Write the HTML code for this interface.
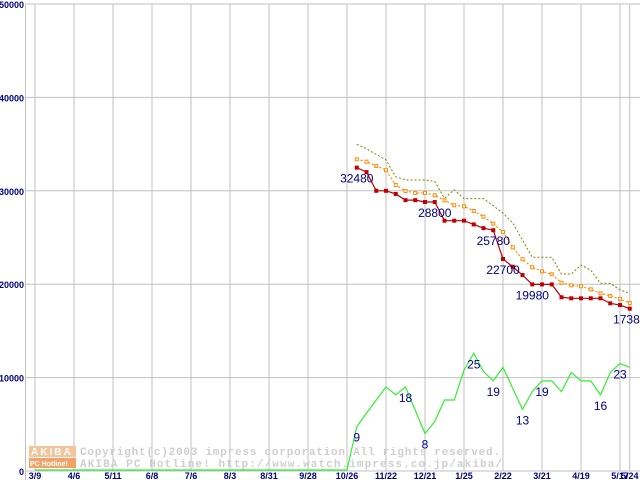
<!DOCTYPE html>
<html><head><meta charset="utf-8"><style>
body{margin:0;background:#fff}
svg{display:block}
</style></head><body>
<svg width="640" height="480" xmlns="http://www.w3.org/2000/svg">
<g id="grid"></g>
<g id="ticks"></g>
<g>
<rect x="29" y="446" width="47" height="11" fill="#f6c49a"/>
<rect x="29" y="458" width="47" height="10" fill="#f2a36a"/>
<text x="31" y="455" font-family="Liberation Sans,sans-serif" font-size="10" font-weight="bold" fill="#fff" letter-spacing="2">AKIBA</text>
<text x="30" y="466" font-family="Liberation Sans,sans-serif" font-size="7" font-weight="bold" fill="#fff">PC Hotline!</text>
<text x="80" y="455" font-family="Liberation Mono,monospace" font-size="11" font-weight="bold" fill="#cfcfcf" textLength="420">Copyright(c)2003 impress corporation All rights reserved.</text>
<text x="80" y="467" font-family="Liberation Mono,monospace" font-size="11" font-weight="bold" fill="#cfcfcf" textLength="422">AKIBA PC Hotline!  http://www.watch.impress.co.jp/akiba/</text>
</g>
<g id="series"></g>
</svg>
<script>
const xLabels=["3/9","4/6","5/11","6/8","7/6","8/3","8/31","9/28","10/26","11/22","12/21","1/25","2/22","3/21","4/19","5/17","5/24"];
const xLabelWeeks=[0,4,8,12,16,20,24,28,32,36,40,44,48,52,56,60,61];
const yTicks=[0,10000,20000,30000,40000,50000];
const priceMin=[32480,32000,30000,30000,29660,29000,29000,28800,28800,26800,26800,26800,26400,26000,25780,22700,21870,20980,19980,19980,19980,18600,18490,18490,18490,18490,17950,17770,17380];
const priceAvg=[33370,33120,32660,32200,30620,29980,29770,29770,29520,28980,28450,28340,27840,27230,26480,25590,23950,22670,21810,21380,21060,20160,19880,19780,19450,19030,18740,18420,17990];
const priceMax=[34980,34500,33900,33300,31500,31160,31160,31160,31000,29200,30100,29160,29160,29160,28400,27600,26550,24730,22880,22880,22880,21090,21090,22050,21500,20100,20100,19380,19030];
const shopCount=[9.5,12.4,15.2,18,16.3,18,13,8,10.6,15.2,15.2,21.6,25.2,21.3,19.3,22.2,17.7,13.2,17,19.3,19.3,17,21.1,19.3,19.3,16.3,21.1,23,22.2];
const priceLabels=[[0,"32480"],[8,"28800"],[14,"25780"],[15,"22700"],[18,"19980"],[28,"17380"]];
const countLabels=[[0,"9"],[5,"18"],[7,"8"],[12,"25"],[14,"19"],[17,"13"],[19,"19"],[25,"16"],[27,"23"]];
const firstWeek=33;
const NS="http://www.w3.org/2000/svg";
function X(w){return 35+w*9.75;}
function Y(v){return 471-v*467/50000;}
function el(t,a,p){const e=document.createElementNS(NS,t);for(const k in a)e.setAttribute(k,a[k]);p.appendChild(e);return e;}
const grid=document.getElementById('grid'),ticks=document.getElementById('ticks'),ser=document.getElementById('series');
yTicks.forEach(v=>{const l=el('line',{x1:25,x2:640,y1:Y(v),y2:Y(v),stroke:'#c0c0c0','stroke-width':1},grid);


const t=el('text',{x:24,y:Y(v)+4,'text-anchor':'end','font-family':'Liberation Sans,sans-serif','font-size':9,'font-weight':'bold',fill:'#000080'},ticks);t.textContent=v;

});
const ax=el('line',{x1:25.5,x2:25.5,y1:4,y2:480,stroke:'#c0c0c0'},grid);


xLabelWeeks.forEach((w,i)=>{const l=el('line',{x1:X(w),x2:X(w),y1:4,y2:471,stroke:'#c0c0c0'},grid);


const t=el('text',{x:X(w),y:479,'text-anchor':'middle','font-family':'Liberation Sans,sans-serif','font-size':9,'font-weight':'bold',fill:'#000080'},ticks);t.textContent=xLabels[i];

});
function pts(arr,scale){return arr.map((v,i)=>X(firstWeek+i)+','+Y(v*scale)).join(' ');}
// green count line incl. zero baseline
const gp=[X(0)+','+(Y(0)-1),X(firstWeek-1)+','+(Y(0)-1)].join(' ')+' '+pts(shopCount,500);
const g=el('polyline',{points:gp,fill:'none',stroke:'#33ee33','stroke-width':1.2},ser);


const mx=el('polyline',{points:pts(priceMax,1),fill:'none',stroke:'#808000','stroke-width':1,'stroke-dasharray':'2,2'},ser);


const av=el('polyline',{points:pts(priceAvg,1),fill:'none',stroke:'#ff8c00','stroke-width':1.2,'stroke-dasharray':'2,2'},ser);


priceAvg.forEach((v,i)=>{const r=el('rect',{x:X(firstWeek+i)-1.5,y:Y(v)-1.5,width:3,height:3,fill:'#fff',stroke:'#ff8c00','stroke-width':1},ser);

});
const mn=el('polyline',{points:pts(priceMin,1),fill:'none',stroke:'#c00000','stroke-width':1.2},ser);


priceMin.forEach((v,i)=>{const r=el('rect',{x:X(firstWeek+i)-2,y:Y(v)-2,width:4,height:4,fill:'#c00000'},ser);

});
priceLabels.forEach(([i,s])=>{const t=el('text',{x:X(firstWeek+i),y:Y(priceMin[i])+15,'text-anchor':'middle','font-family':'Liberation Sans,sans-serif','font-size':12,fill:'#000080'},ser);t.textContent=s;

});
countLabels.forEach(([i,s])=>{const t=el('text',{x:X(firstWeek+i),y:Y(shopCount[i]*500)+15,'text-anchor':'middle','font-family':'Liberation Sans,sans-serif','font-size':12,fill:'#000080'},ser);t.textContent=s;

});
</script>
</body></html>
